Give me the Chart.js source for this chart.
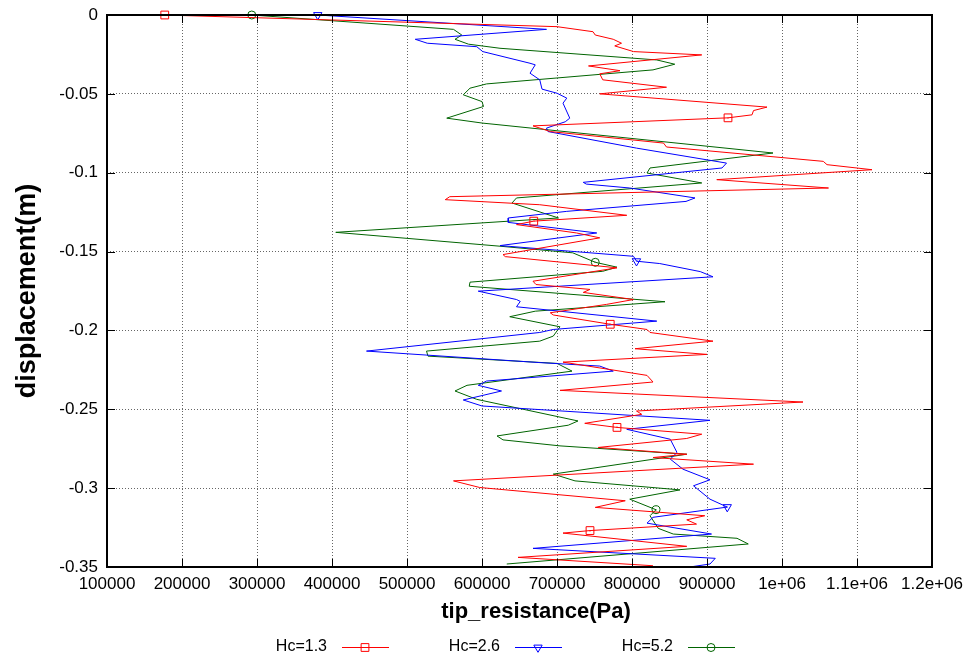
<!DOCTYPE html>
<html>
<head>
<meta charset="utf-8">
<script src="https://cdn.jsdelivr.net/npm/chart.js@4.4.0/dist/chart.umd.min.js"></script>
<style>
html, body { margin: 0; padding: 0; background: #fff; }
#wrap { width: 971px; height: 657px; }
</style>
</head>
<body>
<div id="wrap"><canvas id="myChart" width="971" height="657"></canvas></div>
<script>
// series labels and colours
var seriesNames = ['Hc=1.3', 'Hc=2.6', 'Hc=5.2'];
var seriesColors = ['#ff0000', '#0000ff', '#006400'];

// Hc=1.3 : tip resistance (Pa) against displacement (m)
var redRes = [177000, 700000, 748000, 751000, 775000, 786000, 777000, 802000, 893000, 742000,
    784000, 757000, 761000, 846000, 757000, 980000, 962000, 960000, 928000, 668000,
    691000, 842000, 846000, 1055000, 1060000, 1120000, 913000, 1062000, 557000, 551000,
    677000, 793000, 669000, 646000, 726000, 757000, 628000, 631000, 780000, 668000,
    672000, 744000, 735000, 802000, 766000, 691000, 695000, 771000, 820000, 824000,
    908000, 804000, 900000, 708000, 820000, 828000, 704000, 1028000, 806000, 813000,
    737000, 780000, 893000, 873000, 755000, 873000, 828000, 962000, 562000, 597000,
    791000, 751000, 897000, 873000, 886000, 744000, 708000, 873000, 648000, 828000];
var redDisp = [0, -0.0074, -0.0106, -0.0127, -0.0154, -0.0179, -0.0196, -0.0232, -0.0253, -0.0323,
    -0.0353, -0.0373, -0.0411, -0.0458, -0.05, -0.0584, -0.0606, -0.0633, -0.0652, -0.0703,
    -0.0739, -0.0812, -0.0837, -0.0928, -0.0949, -0.0981, -0.1044, -0.1097, -0.1152, -0.1171,
    -0.1203, -0.127, -0.1307, -0.1329, -0.1382, -0.1413, -0.1519, -0.1532, -0.1603, -0.1688,
    -0.1709, -0.174, -0.1759, -0.1804, -0.1835, -0.1888, -0.1902, -0.1961, -0.1994, -0.2013,
    -0.2068, -0.2116, -0.2152, -0.2201, -0.2285, -0.2327, -0.238, -0.2454, -0.2511, -0.2532,
    -0.2589, -0.2615, -0.2658, -0.2685, -0.2742, -0.2785, -0.2806, -0.2848, -0.2954, -0.2996,
    -0.308, -0.3122, -0.3175, -0.3201, -0.3228, -0.3269, -0.3285, -0.3369, -0.3439, -0.3492];
var redMarks = [0, 18, 32, 47, 61, 75];

// Hc=2.6
var blueRes = [381000, 686000, 511000, 527000, 593000, 601000, 664000, 671000, 664000, 677000,
    680000, 700000, 713000, 708000, 717000, 711000, 686000, 688000, 806000, 926000,
    920000, 735000, 739000, 797000, 884000, 872000, 713000, 635000, 635000, 753000,
    624000, 802000, 806000, 837000, 891000, 908000, 595000, 646000, 651000, 646000,
    833000, 695000, 677000, 446000, 677000, 757000, 775000, 606000, 595000, 626000,
    575000, 600000, 904000, 793000, 851000, 860000, 851000, 868000, 904000, 882000,
    904000, 927000, 828000, 820000, 906000, 668000, 911000, 904000, 877000];
var blueDisp = [0, -0.0091, -0.0154, -0.0179, -0.0201, -0.0232, -0.0306, -0.0316, -0.0369, -0.0411,
    -0.047, -0.0496, -0.0527, -0.0559, -0.0654, -0.0677, -0.0717, -0.0739, -0.0844, -0.0939,
    -0.097, -0.1061, -0.1072, -0.1097, -0.116, -0.1182, -0.1245, -0.1287, -0.1315, -0.1382,
    -0.1462, -0.153, -0.1561, -0.1576, -0.1627, -0.166, -0.1751, -0.1804, -0.1816, -0.185,
    -0.1941, -0.1994, -0.2013, -0.2131, -0.2204, -0.2226, -0.2258, -0.2321, -0.2348, -0.2384,
    -0.2441, -0.2479, -0.257, -0.2627, -0.269, -0.2774, -0.2816, -0.288, -0.2947, -0.2985,
    -0.307, -0.312, -0.3185, -0.3222, -0.3291, -0.3382, -0.3445, -0.3481, -0.35];
var blueMarks = [0, 32, 61];

// Hc=5.2
var greenRes = [293000, 562000, 573000, 564000, 582000, 624000, 833000, 857000, 828000, 606000,
    584000, 575000, 600000, 602000, 553000, 600000, 988000, 824000, 820000, 893000,
    646000, 640000, 702000, 405000, 624000, 721000, 751000, 780000, 761000, 584000,
    583000, 844000, 671000, 637000, 704000, 695000, 677000, 526000, 528000, 700000,
    720000, 580000, 564000, 593000, 728000, 715000, 620000, 628000, 704000, 873000,
    695000, 724000, 864000, 797000, 832000, 824000, 835000, 855000, 940000, 955000, 633000];
var greenDisp = [0, -0.0091, -0.0127, -0.0154, -0.0185, -0.0211, -0.0285, -0.0312, -0.0348, -0.0437,
    -0.0464, -0.0506, -0.0549, -0.058, -0.0654, -0.0685, -0.0875, -0.097, -0.1002, -0.1065,
    -0.116, -0.1192, -0.1287, -0.1378, -0.1466, -0.1508, -0.1568, -0.1599, -0.1625, -0.1694,
    -0.172, -0.1818, -0.1878, -0.1913, -0.1977, -0.2036, -0.2068, -0.2131, -0.2163, -0.2209,
    -0.2258, -0.2348, -0.2384, -0.2437, -0.2574, -0.2601, -0.2669, -0.2694, -0.2732, -0.2785,
    -0.2911, -0.2954, -0.3011, -0.307, -0.3137, -0.3175, -0.3255, -0.3291, -0.3318, -0.3354, -0.3481];
var greenMarks = [0, 26, 54];

// axis ranges
var xMin = 100000, xMax = 1200000, xStep = 100000;
var yMin = -0.35, yMax = 0, yStep = 0.05;

var fontFamily = '"Liberation Sans", Arial, Helvetica, sans-serif';
var allMarks = [redMarks, blueMarks, greenMarks];

function toPoints(res, disp) {
    return res.map(function(v, i) { return { x: v, y: disp[i] }; });
}

function markerRadius(marks, r) {
    return function(ctx) {
        return marks.indexOf(ctx.dataIndex) >= 0 ? r : 0;
    };
}

var markerStyles = [
    { pointStyle: 'rect', radius: 5.5, rotation: 0 },
    { pointStyle: 'triangle', radius: 4.8, rotation: 180 },
    { pointStyle: 'circle', radius: 4, rotation: 0 }
];

function makeDataset(i, res, disp, marks) {
    var m = markerStyles[i];
    return {
        label: seriesNames[i],
        data: toPoints(res, disp),
        showLine: true,
        clip: false,
        borderColor: seriesColors[i],
        borderWidth: 1,
        tension: 0,
        pointStyle: m.pointStyle,
        pointRotation: m.rotation,
        pointRadius: markerRadius(marks, m.radius),
        pointHoverRadius: markerRadius(marks, m.radius),
        pointBorderColor: seriesColors[i],
        pointBackgroundColor: 'rgba(0,0,0,0)',
        pointBorderWidth: 1
    };
}

// box round the plot, inward ticks on all four sides, and the x title
var framePlugin = {
    id: 'frame',
    afterDatasetsDraw: function(chart) {
        // small dot in the middle of each open marker
        var ctx = chart.ctx;
        ctx.save();
        chart.data.datasets.forEach(function(ds, i) {
            var meta = chart.getDatasetMeta(i);
            ctx.fillStyle = ds.borderColor;
            allMarks[i].forEach(function(idx) {
                var el = meta.data[idx];
                if (el) ctx.fillRect(Math.round(el.x) - 0.5, Math.round(el.y) - 0.5, 1, 1);
            });
        });
        ctx.restore();
    },
    afterDraw: function(chart) {
        var ctx = chart.ctx;
        var a = chart.chartArea;
        var xs = chart.scales.x, ys = chart.scales.y;
        ctx.save();
        ctx.strokeStyle = '#000';
        ctx.lineWidth = 1;
        ctx.beginPath();
        xs.ticks.forEach(function(t) {
            var px = Math.round(xs.getPixelForValue(t.value)) + 0.5;
            ctx.moveTo(px, a.bottom); ctx.lineTo(px, a.bottom - 8);
            ctx.moveTo(px, a.top); ctx.lineTo(px, a.top + 8);
        });
        ys.ticks.forEach(function(t) {
            var py = Math.round(ys.getPixelForValue(t.value)) + 0.5;
            ctx.moveTo(a.left, py); ctx.lineTo(a.left + 8, py);
            ctx.moveTo(a.right, py); ctx.lineTo(a.right - 8, py);
        });
        ctx.stroke();
        ctx.lineWidth = 2;
        ctx.strokeRect(a.left, a.top, a.right - a.left, a.bottom - a.top);

        ctx.fillStyle = '#000';
        ctx.font = 'bold 22px ' + fontFamily;
        ctx.textAlign = 'center';
        ctx.textBaseline = 'middle';
        ctx.fillText('tip_resistance(Pa)', 536, 612);
        ctx.restore();
    }
};

// gnuplot style key under the plot: text, then a line sample with its marker
var keyPlugin = {
    id: 'key',
    afterDraw: function(chart) {
        var ctx = chart.ctx;
        var textRight = [327, 500, 673];
        var y = 647;
        ctx.save();
        ctx.font = '16px ' + fontFamily;
        ctx.textAlign = 'right';
        ctx.textBaseline = 'middle';
        chart.data.datasets.forEach(function(ds, i) {
            var tx = textRight[i];
            ctx.fillStyle = '#000';
            ctx.fillText(ds.label, tx, y);
            ctx.strokeStyle = ds.borderColor;
            ctx.lineWidth = 1;
            ctx.beginPath();
            ctx.moveTo(tx + 15, y + 0.5);
            ctx.lineTo(tx + 62, y + 0.5);
            ctx.stroke();
            var m = markerStyles[i];
            ctx.fillStyle = 'rgba(0,0,0,0)';
            Chart.helpers.drawPoint(ctx, {
                pointStyle: m.pointStyle,
                rotation: m.rotation,
                radius: m.radius,
                borderWidth: 1
            }, tx + 38, y + 0.5);
            ctx.fillStyle = ds.borderColor;
            ctx.fillRect(tx + 37.5, y, 1, 1);
        });
        ctx.restore();
    }
};

var ctx = document.getElementById('myChart').getContext('2d');

var myChart = new Chart(ctx, {
    type: 'scatter',
    data: {
        datasets: [
            makeDataset(0, redRes, redDisp, redMarks),
            makeDataset(1, blueRes, blueDisp, blueMarks),
            makeDataset(2, greenRes, greenDisp, greenMarks)
        ]
    },
    options: {
        responsive: false,
        animation: false,
        devicePixelRatio: 1,
        layout: {
            padding: { left: 0, right: 39, top: 15, bottom: 30 }
        },
        plugins: {
            legend: { display: false },
            tooltip: { enabled: false }
        },
        scales: {
            x: {
                type: 'linear',
                min: xMin,
                max: xMax,
                afterFit: function(scale) { scale.height = 60; },
                border: { display: false, dash: [1, 2] },
                grid: { color: '#666', lineWidth: 1, drawTicks: false },
                ticks: {
                    stepSize: xStep,
                    padding: 7,
                    color: '#000',
                    maxRotation: 0,
                    autoSkip: false,
                    font: { family: fontFamily, size: 17 },
                    callback: function(v) {
                        if (v >= 1000000) return (v / 1000000) + 'e+06';
                        return String(v);
                    }
                },
                title: { display: false }
            },
            y: {
                type: 'linear',
                min: yMin,
                max: yMax,
                afterFit: function(scale) { scale.width = 107; },
                border: { display: false, dash: [1, 2] },
                grid: {
                    color: '#666',
                    lineWidth: 1,
                    drawTicks: true,
                    tickLength: 9,
                    tickColor: 'rgba(0,0,0,0)'
                },
                ticks: {
                    stepSize: yStep,
                    padding: 0,
                    color: '#000',
                    autoSkip: false,
                    font: { family: fontFamily, size: 17 },
                    callback: function(v) { return String(Number(v.toFixed(2))); }
                },
                title: {
                    display: true,
                    text: 'displacement(m)',
                    color: '#000',
                    font: { family: fontFamily, size: 27, weight: 'bold' },
                    padding: { top: 11, bottom: 0 }
                }
            }
        }
    },
    plugins: [framePlugin, keyPlugin]
});
</script>
</body>
</html>
